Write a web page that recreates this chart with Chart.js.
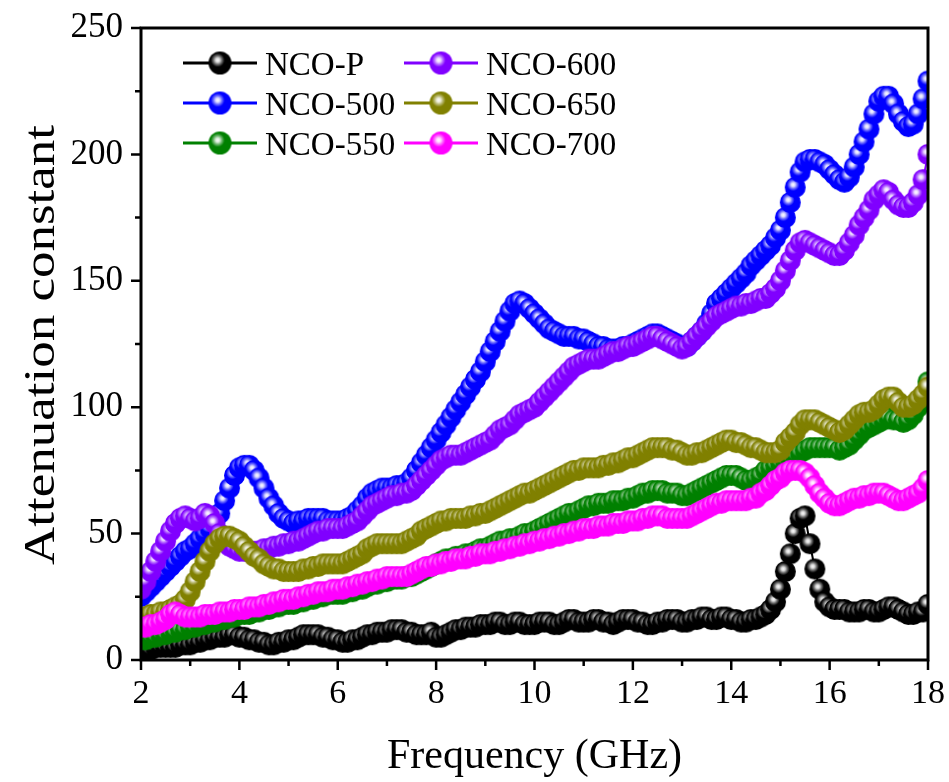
<!DOCTYPE html>
<html>
<head>
<meta charset="utf-8">
<script src="https://cdn.jsdelivr.net/npm/chart.js@4.4.0/dist/chart.umd.min.js"></script>
<style>
  html, body { margin: 0; padding: 0; background: #fff; }
  #wrap { width: 949px; height: 782px; }
</style>
</head>
<body>
<div id="wrap"><canvas id="myChart" width="949" height="782"></canvas></div>
<script>
// frequency grid, 2 - 18 GHz in 0.1 GHz steps
const freq = Array.from({ length: 161 }, (_, i) => +(2 + i * 0.1).toFixed(1));

const seriesNames = ['NCO-P', 'NCO-500', 'NCO-550', 'NCO-600', 'NCO-650', 'NCO-700'];
const seriesColors = ['#000000', '#0000ff', '#008000', '#8000ff', '#808000', '#ff00ff'];

const ncoP = [4,4,4,5,5,5,5,5,6,6,
  6,7,7,8,8,9,9,9,10,10,
  9,9,8,8,7,7,6,6,7,7,
  8,8,9,10,10,10,10,9,9,8,
  8,7,7,8,8,9,10,10,11,11,
  11,12,12,12,11,11,10,10,10,11,
  9,9,10,11,12,12,13,13,13,14,
  14,14,15,15,14,14,15,15,14,14,
  14,15,15,15,14,14,15,16,16,15,
  15,15,16,16,15,15,14,15,16,16,
  16,15,15,14,14,15,15,16,16,16,
  15,15,16,16,17,17,16,16,17,17,
  16,16,15,15,16,16,17,18,20,23,
  28,35,42,50,56,57,46,36,28,23,
  21,20,20,20,19,19,19,20,20,19,
  19,20,21,21,20,19,18,18,19,19,
  22];

const nco500 = [25,27,29,31,33,35,37,39,41,43,
  44,46,48,50,52,55,58,63,68,73,
  76,77,77,75,72,68,64,61,58,56,
  55,54,55,55,56,56,56,56,55,55,
  55,55,56,57,59,61,64,66,67,68,
  68,68,69,69,70,72,75,78,81,84,
  87,90,93,96,99,102,105,108,111,114,
  118,122,126,130,134,138,141,142,141,139,
  137,135,133,131,130,129,128,128,128,127,
  127,126,125,124,124,123,123,123,124,124,
  125,126,127,128,129,129,128,127,126,125,
  124,124,126,128,130,133,137,141,143,145,
  147,149,151,153,156,158,160,162,164,167,
  170,175,181,187,193,197,198,198,197,196,
  194,192,190,189,191,195,200,205,210,216,
  221,223,223,220,216,213,211,212,216,222,
  229];

const nco550 = [8,8,9,9,10,10,11,11,12,12,
  13,13,14,14,15,15,16,16,17,17,
  18,18,18,19,19,20,20,21,21,22,
  22,22,23,23,24,24,25,25,26,26,
  26,26,27,27,28,28,29,30,30,31,
  31,32,32,32,33,33,34,35,36,37,
  38,39,40,40,41,41,42,42,43,44,
  44,45,46,47,47,48,48,49,50,50,
  51,52,53,54,55,56,57,58,58,59,
  60,61,61,62,62,62,63,63,63,64,
  64,65,66,66,67,67,67,66,66,66,
  65,65,66,67,68,69,70,71,72,73,
  73,73,72,71,71,72,73,75,76,77,
  78,79,80,81,82,83,84,84,84,84,
  84,84,83,84,85,87,89,91,92,93,
  94,95,96,95,95,94,95,97,100,104,
  110];

const nco600 = [28,31,35,39,43,47,51,54,56,57,
  56,55,56,58,57,54,50,47,45,44,
  43,43,43,43,43,44,44,45,45,46,
  46,47,47,48,49,50,51,51,52,52,
  52,52,53,54,55,57,59,61,62,63,
  64,65,65,66,66,67,69,71,73,75,
  77,79,80,81,81,81,82,83,84,85,
  86,87,89,91,92,93,95,97,98,99,
  100,102,104,106,108,110,112,114,116,117,
  118,119,119,119,120,121,122,122,123,124,
  124,125,126,127,128,128,127,126,125,124,
  123,124,126,128,130,132,134,136,137,138,
  139,140,140,141,141,142,143,143,145,147,
  150,154,158,162,165,166,165,164,163,162,
  161,160,160,162,165,168,172,175,178,182,
  184,186,185,182,180,179,179,181,184,190,
  200];

const nco650 = [17,17,18,18,19,19,20,21,22,24,
  27,31,35,39,43,46,48,49,49,48,
  47,45,43,41,40,38,37,36,36,35,
  35,35,35,36,36,37,37,38,38,38,
  38,38,39,40,41,42,44,45,46,46,
  46,46,46,46,47,48,49,51,52,53,
  54,55,55,56,56,56,56,57,57,58,
  58,59,60,61,62,63,64,65,66,66,
  67,68,69,70,71,72,73,74,75,75,
  76,76,76,76,77,77,78,78,79,80,
  80,81,82,83,84,84,84,84,83,83,
  82,81,81,82,82,83,84,85,86,87,
  87,86,86,85,84,84,83,82,82,82,
  83,86,88,90,93,95,95,95,94,93,
  92,91,90,91,93,95,97,98,98,99,
  101,103,104,104,102,100,100,101,103,105,
  108];

const nco700 = [13,13,14,14,15,16,18,19,18,17,
  17,17,17,18,18,18,19,19,19,20,
  20,20,21,21,21,22,22,23,23,24,
  24,24,25,25,26,26,27,27,27,28,
  28,28,29,29,30,30,31,31,32,32,
  33,33,33,33,33,34,35,36,37,37,
  38,38,39,39,40,40,40,41,41,42,
  42,42,43,43,44,44,45,45,46,46,
  47,47,48,48,49,49,50,50,51,51,
  52,52,52,53,53,53,54,54,54,55,
  55,55,56,56,57,57,57,56,56,56,
  56,56,57,58,59,60,61,62,62,63,
  63,63,63,63,64,64,66,67,69,71,
  72,74,75,75,75,74,72,69,66,64,
  62,61,61,62,63,64,64,65,65,66,
  66,66,65,64,63,63,64,65,66,68,
  71];

const allSeries = [ncoP, nco500, nco550, nco600, nco650, nco700];

const xTicks = [2, 4, 6, 8, 10, 12, 14, 16, 18];
const yTicks = [0, 50, 100, 150, 200, 250];

// shiny ball marker
function ball(color, r) {
  const c = document.createElement('canvas');
  const s = Math.ceil(r * 2 + 2);
  c.width = s; c.height = s;
  const g = c.getContext('2d');
  const cx = s / 2, cy = s / 2;
  g.beginPath(); g.arc(cx, cy, r, 0, Math.PI * 2);
  g.fillStyle = color; g.fill();
  const hx = cx - r * 0.2, hy = cy - r * 0.25;
  const gr = g.createRadialGradient(hx, hy, 0, hx, hy, r * 0.6);
  gr.addColorStop(0, 'rgba(255,255,255,1)');
  gr.addColorStop(0.3, 'rgba(255,255,255,0.85)');
  gr.addColorStop(0.6, 'rgba(255,255,255,0.45)');
  gr.addColorStop(1, 'rgba(255,255,255,0)');
  g.beginPath(); g.arc(cx, cy, r, 0, Math.PI * 2);
  g.fillStyle = gr; g.fill();
  return c;
}

const ballsSmall = seriesColors.map(c => ball(c, 10.5));
const ballsLegend = seriesColors.map(c => ball(c, 11.5));

const datasets = seriesNames.map((name, k) => ({
  label: name,
  data: freq.map((f, i) => ({ x: f, y: allSeries[k][i] })),
  borderColor: seriesColors[k],
  backgroundColor: seriesColors[k],
  borderWidth: 2,
  pointStyle: ballsSmall[k],
  pointRadius: 10,
  pointHoverRadius: 10,
  order: 6 - k
}));

const serif = '"Liberation Serif", "Times New Roman", serif';

// frame, ticks, y title, legend
const decorPlugin = {
  id: 'decor',
  afterDraw(chart) {
    const { ctx, chartArea: a, scales: { x, y } } = chart;
    ctx.save();
    ctx.strokeStyle = '#000';
    ctx.lineWidth = 3;
    ctx.strokeRect(a.left, a.top, a.right - a.left, a.bottom - a.top);

    ctx.lineWidth = 2.5;
    ctx.beginPath();
    for (let v = 2; v <= 18; v++) {
      const px = x.getPixelForValue(v);
      const len = v % 2 === 0 ? 10 : 6;
      ctx.moveTo(px, a.bottom); ctx.lineTo(px, a.bottom + len);
    }
    for (let v = 0; v <= 250; v += 25) {
      const py = y.getPixelForValue(v);
      const len = v % 50 === 0 ? 10 : 6;
      ctx.moveTo(a.left, py); ctx.lineTo(a.left - len, py);
    }
    ctx.stroke();

    // y title
    ctx.save();
    ctx.translate(54, 345);
    ctx.rotate(-Math.PI / 2);
    ctx.scale(1, 0.85);
    ctx.fillStyle = '#000';
    ctx.font = '53px ' + serif;
    ctx.textAlign = 'center';
    ctx.textBaseline = 'alphabetic';
    ctx.fillText('Attenuation constant', 0, 0);
    ctx.restore();

    // legend, two columns of three
    const cols = [{ x0: 183, x1: 257, t: 265 }, { x0: 404, x1: 478, t: 486 }];
    const rows = [63, 103, 143];
    ctx.font = '33px ' + serif;
    ctx.textAlign = 'left';
    ctx.textBaseline = 'alphabetic';
    seriesNames.forEach((name, k) => {
      const col = cols[Math.floor(k / 3)];
      const cy = rows[k % 3];
      ctx.strokeStyle = seriesColors[k];
      ctx.lineWidth = 3;
      ctx.beginPath(); ctx.moveTo(col.x0, cy); ctx.lineTo(col.x1, cy); ctx.stroke();
      const img = ballsLegend[k];
      ctx.drawImage(img, (col.x0 + col.x1) / 2 - img.width / 2, cy - img.height / 2);
      ctx.fillStyle = '#000';
      ctx.fillText(name, col.t, cy + 12);
    });
    ctx.restore();
  }
};

new Chart(document.getElementById('myChart'), {
  type: 'line',
  data: { datasets },
  options: {
    responsive: false,
    animation: false,
    devicePixelRatio: 1,
    layout: { autoPadding: false, padding: { top: 28, right: 21, left: 0, bottom: 0 } },
    plugins: { legend: { display: false }, tooltip: { enabled: false } },
    elements: { line: { tension: 0 } },
    scales: {
      x: {
        type: 'linear', min: 2, max: 18,
        afterBuildTicks: s => { s.ticks = xTicks.map(v => ({ value: v })); },
        ticks: { font: { family: serif, size: 34 }, color: '#000', padding: 14, maxRotation: 0 },
        grid: { display: false, drawTicks: false },
        border: { display: false },
        title: { display: true, text: 'Frequency (GHz)', color: '#000',
                 font: { family: serif, size: 42 }, padding: { top: 0, bottom: 0 } },
        afterFit: s => { s.height = 122; s.paddingLeft = 0; s.paddingRight = 0; }
      },
      y: {
        type: 'linear', min: 0, max: 250,
        afterBuildTicks: s => { s.ticks = yTicks.map(v => ({ value: v })); },
        ticks: { font: { family: serif, size: 35 }, color: '#000', padding: 18 },
        grid: { display: false, drawTicks: false },
        border: { display: false },
        afterFit: s => { s.width = 141; s.paddingTop = 0; s.paddingBottom = 0; }
      }
    }
  },
  plugins: [decorPlugin]
});
</script>
</body>
</html>
